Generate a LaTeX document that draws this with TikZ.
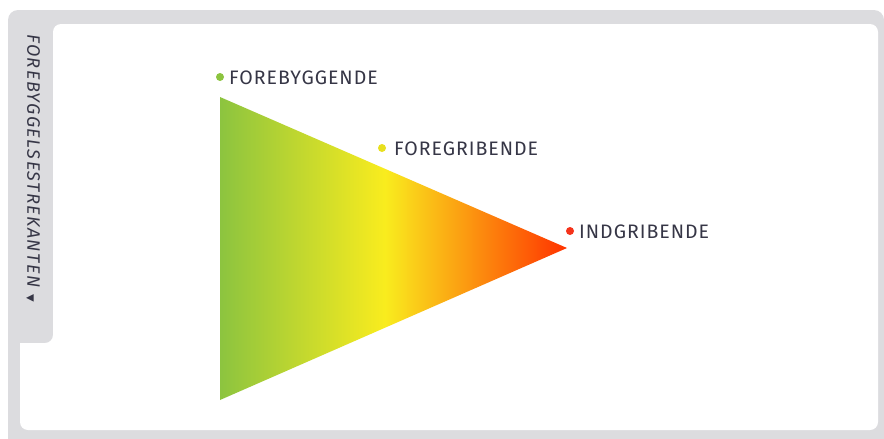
\documentclass[tikz,border=0pt]{standalone}
\usepackage{fontspec}
\setmainfont{Fira Sans}
\newfontfamily\lblfont[LetterSpace=5]{Fira Sans}
\newfontfamily\sidefont[LetterSpace=8]{Fira Sans}
\newfontfamily\symfont{DejaVu Sans}
\definecolor{framegray}{HTML}{DCDCDF}
\definecolor{txt}{HTML}{363646}
\definecolor{gGreen}{HTML}{8CC43F}
\definecolor{gYellow}{HTML}{F9EC1E}
\definecolor{gRed}{HTML}{FF3300}
\definecolor{dotGreen}{HTML}{8CC43F}
\definecolor{dotYellow}{HTML}{E8E01E}
\definecolor{dotRed}{HTML}{F5331A}
\pgfdeclarehorizontalshading{prevshade}{100bp}{color(0bp)=(gGreen); color(25bp)=(gGreen); color(48.75bp)=(gYellow); color(75bp)=(gRed); color(100bp)=(gRed)}
\tikzset{
  lbl/.style={anchor=west, text=txt, font=\lblfont\fontsize{19.5}{21}\selectfont, inner sep=0pt},
  dot/.style={circle, inner sep=0pt, minimum size=8pt},
}
\begin{document}
\begin{tikzpicture}[x=1pt,y=-1pt]
\useasboundingbox (0,0) rectangle (884,439);
\clip (0,0) rectangle (884,439);
\fill[framegray, rounded corners=10] (8,10) rectangle (884,460);
\fill[white] (20,343) [rounded corners=8] -- (20,430) -- (878,430) -- (878,24) -- (53,24) -- (53,343) [sharp corners] -- cycle;
\node[rotate=-90, anchor=west, text=txt, font=\sidefont\itshape\fontsize{18}{19}\selectfont, inner sep=0pt] (side) at (33,34) {FOREBYGGELSESTREKANTEN\hspace{7pt}{\symfont\fontsize{10}{11}\selectfont▼}};
\shade[shading=prevshade] (220,97) -- (567,248) -- (220,400) -- cycle;
\node[dot, fill=dotGreen] (d1) at (220,77) {};
\node[lbl] (l1) at (229,78) {FOREBYGGENDE};
\node[dot, fill=dotYellow] (d2) at (382,148) {};
\node[lbl] (l2) at (394,149) {FOREGRIBENDE};
\node[dot, fill=dotRed] (d3) at (570,231) {};
\node[lbl] (l3) at (579,232) {INDGRIBENDE};
\end{tikzpicture}
\end{document}
